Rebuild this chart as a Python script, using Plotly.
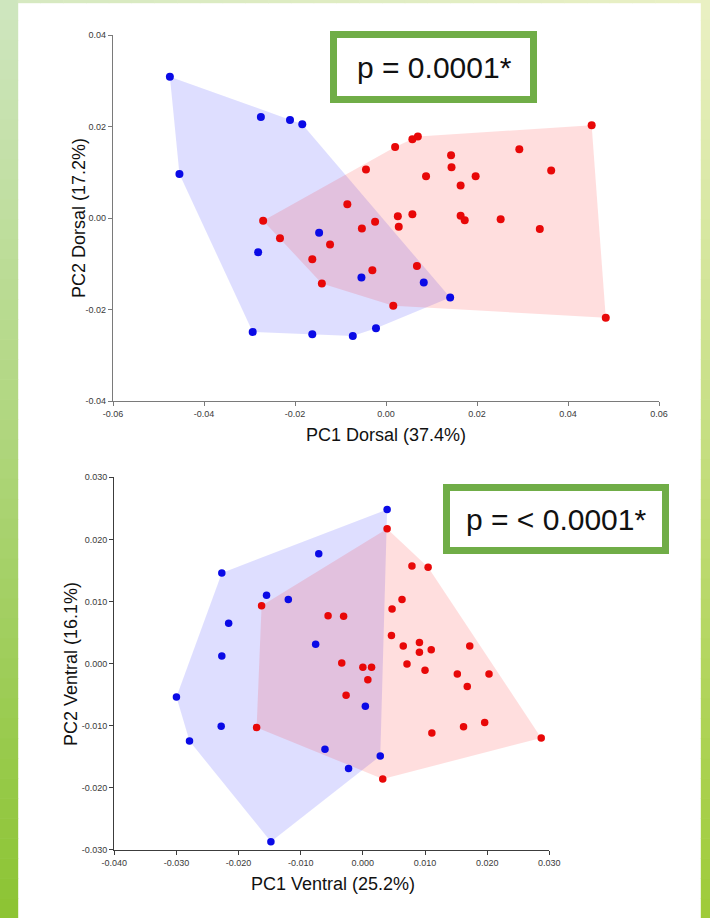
import plotly.graph_objects as go

W, H = 710, 918

# ---------------- DATA ----------------
# Dorsal PCA (top panel)
dorsal_blue_x = [-0.0475, -0.0275, -0.0211, -0.0184, -0.0454, -0.0147, -0.0281,
                 -0.0054, -0.0293, -0.0162, -0.0073, -0.0022, 0.0083, 0.0141]
dorsal_blue_y = [0.0309, 0.0221, 0.0214, 0.0205, 0.0096, -0.0032, -0.0075,
                 -0.0130, -0.0249, -0.0254, -0.0258, -0.0241, -0.0141, -0.0174]
dorsal_red_x = [-0.0044, -0.0085, -0.0270, -0.0053, -0.0024, -0.0233, -0.0123, -0.0162,
                -0.0030, -0.0141, 0.0020, 0.0058, 0.0070, 0.0143, 0.0144, 0.0088,
                0.0197, 0.0164, 0.0293, 0.0363, 0.0452, 0.0026, 0.0028, 0.0058,
                0.0164, 0.0173, 0.0252, 0.0338, 0.0068, 0.0016, 0.0483]
dorsal_red_y = [0.0106, 0.0030, -0.0006, -0.0023, -0.0008, -0.0044, -0.0058, -0.0090,
                -0.0114, -0.0143, 0.0155, 0.0172, 0.0178, 0.0137, 0.0111, 0.0091,
                0.0091, 0.0071, 0.0150, 0.0104, 0.0203, 0.0004, -0.0019, 0.0008,
                0.0005, -0.0005, -0.0003, -0.0024, -0.0105, -0.0192, -0.0218]

# Ventral PCA (bottom panel)
ventral_blue_x = [-0.0227, -0.0071, -0.0155, -0.0120, -0.0216, -0.0076, -0.0227, 0.0039,
                  0.0004, 0.0028, -0.0300, -0.0228, -0.0279, -0.0061, -0.0023, -0.0148]
ventral_blue_y = [0.0146, 0.0177, 0.0110, 0.0103, 0.0065, 0.0031, 0.0012, 0.0248,
                  -0.0069, -0.0149, -0.0054, -0.0101, -0.0125, -0.0138, -0.0169, -0.0287]
ventral_red_x = [-0.0163, -0.0056, -0.0031, -0.0034, 0.0000, 0.0014, 0.0008, 0.0039,
                 0.0079, 0.0105, 0.0063, 0.0047, 0.0046, 0.0065, 0.0091, 0.0091,
                 0.0110, 0.0071, 0.0100, 0.0172, 0.0152, 0.0203, 0.0168, 0.0111,
                 0.0162, 0.0196, 0.0287, -0.0027, -0.0171, 0.0032]
ventral_red_y = [0.0093, 0.0077, 0.0076, 0.0001, -0.0006, -0.0006, -0.0026, 0.0217,
                 0.0157, 0.0155, 0.0103, 0.0088, 0.0045, 0.0028, 0.0034, 0.0018,
                 0.0022, -0.0001, -0.0011, 0.0028, -0.0017, -0.0017, -0.0037, -0.0112,
                 -0.0102, -0.0095, -0.0120, -0.0051, -0.0103, -0.0186]

dorsal_xticks = [-0.06, -0.04, -0.02, 0.0, 0.02, 0.04, 0.06]
dorsal_xticklabels = ["-0.06", "-0.04", "-0.02", "0.00", "0.02", "0.04", "0.06"]
dorsal_yticks = [-0.04, -0.02, 0.0, 0.02, 0.04]
dorsal_yticklabels = ["-0.04", "-0.02", "0.00", "0.02", "0.04"]
ventral_xticks = [-0.04, -0.03, -0.02, -0.01, 0.0, 0.01, 0.02, 0.03]
ventral_xticklabels = ["-0.040", "-0.030", "-0.020", "-0.010", "0.000", "0.010", "0.020", "0.030"]
ventral_yticks = [-0.03, -0.02, -0.01, 0.0, 0.01, 0.02, 0.03]
ventral_yticklabels = ["-0.030", "-0.020", "-0.010", "0.000", "0.010", "0.020", "0.030"]

dorsal_xtitle = "PC1 Dorsal (37.4%)"
dorsal_ytitle = "PC2 Dorsal (17.2%)"
ventral_xtitle = "PC1 Ventral (25.2%)"
ventral_ytitle = "PC2 Ventral (16.1%)"
dorsal_p = "p = 0.0001*"
ventral_p = "p = < 0.0001*"


# ---------------- helpers ----------------
def hull(xs, ys):
    pts = sorted(set(zip(xs, ys)))
    if len(pts) < 3:
        return pts

    def cross(o, a, b):
        return (a[0] - o[0]) * (b[1] - o[1]) - (a[1] - o[1]) * (b[0] - o[0])

    lower, upper = [], []
    for p in pts:
        while len(lower) >= 2 and cross(lower[-2], lower[-1], p) <= 0:
            lower.pop()
        lower.append(p)
    for p in reversed(pts):
        while len(upper) >= 2 and cross(upper[-2], upper[-1], p) <= 0:
            upper.pop()
        upper.append(p)
    h = lower[:-1] + upper[:-1]
    return h + [h[0]]


BLUE = "#0a0ae6"
RED = "#e80808"
BLUE_FILL = "rgba(0,0,255,0.13)"
RED_FILL = "rgba(255,0,0,0.13)"

fig = go.Figure()


def add_panel(bx, by, rx, ry, xa, ya, msize):
    for xs, ys, fc in ((bx, by, BLUE_FILL), (rx, ry, RED_FILL)):
        h = hull(xs, ys)
        fig.add_trace(go.Scatter(x=[p[0] for p in h], y=[p[1] for p in h], mode="lines",
                                 fill="toself", fillcolor=fc, line=dict(width=0),
                                 hoverinfo="skip", showlegend=False, xaxis=xa, yaxis=ya))
    fig.add_trace(go.Scatter(x=bx, y=by, mode="markers",
                             marker=dict(size=msize, color=BLUE, line=dict(width=0)),
                             showlegend=False, xaxis=xa, yaxis=ya))
    fig.add_trace(go.Scatter(x=rx, y=ry, mode="markers",
                             marker=dict(size=msize, color=RED, line=dict(width=0)),
                             showlegend=False, xaxis=xa, yaxis=ya))


add_panel(dorsal_blue_x, dorsal_blue_y, dorsal_red_x, dorsal_red_y, "x", "y", 8)
add_panel(ventral_blue_x, ventral_blue_y, ventral_red_x, ventral_red_y, "x2", "y2", 7.5)


def px(x):
    return x / W


def py(y):
    return 1 - y / H


tickfont = dict(family="Liberation Sans, Arial, sans-serif", size=9, color="#3a3a3a")


def axis(domain, rng, tv, tt, anchor, lc):
    return dict(domain=domain, range=rng, tickvals=tv, ticktext=tt, anchor=anchor,
                showgrid=False, zeroline=False, showline=True, linecolor=lc, linewidth=1.3,
                ticks="outside", ticklen=4, tickwidth=1, tickcolor=lc, tickfont=tickfont,
                automargin=False, fixedrange=True)


# ---------------- background gradient (style) ----------------
shapes = []
N = 46
bh = H / N


def mix(c0, c1, t):
    return "rgb(%d,%d,%d)" % tuple(round(a + (b - a) * t) for a, b in zip(c0, c1))


left_top, left_bot = (207, 230, 192), (140, 196, 50)
right_top, right_bot = (234, 240, 196), (158, 203, 56)
for i in range(N):
    t = (i + 0.5) / N
    y0, y1 = i * bh, (i + 1) * bh + 0.6
    shapes.append(dict(type="rect", xref="paper", yref="paper", x0=0, x1=px(18.2),
                       y0=py(y1), y1=py(y0), line=dict(width=0),
                       fillcolor=mix(left_top, left_bot, t), layer="below"))
    shapes.append(dict(type="rect", xref="paper", yref="paper", x0=px(700.8), x1=1,
                       y0=py(y1), y1=py(y0), line=dict(width=0),
                       fillcolor=mix(right_top, right_bot, t), layer="below"))
NT = 30
for i in range(NT):
    t = (i + 0.5) / NT
    x0 = 18 + i * (683 / NT)
    shapes.append(dict(type="rect", xref="paper", yref="paper", x0=px(x0 - 0.3),
                       x1=px(x0 + 683 / NT + 0.3), y0=py(3.2), y1=1, line=dict(width=0),
                       fillcolor=mix((214, 233, 193), (233, 240, 196), t), layer="below"))

# p-value boxes
GREEN = "#70ad47"
shapes.append(dict(type="rect", xref="paper", yref="paper", x0=px(333.5), x1=px(533.5),
                   y0=py(99.5), y1=py(34.5), line=dict(color=GREEN, width=7),
                   fillcolor="white", layer="above"))
shapes.append(dict(type="rect", xref="paper", yref="paper", x0=px(446.5), x1=px(665.5),
                   y0=py(550.5), y1=py(487.5), line=dict(color=GREEN, width=7),
                   fillcolor="white", layer="above"))

titlefont = dict(family="Liberation Sans, Arial, sans-serif", size=18, color="#111111")
pfont = dict(family="Liberation Sans, Arial, sans-serif", size=30, color="#111111")
annotations = [
    dict(text=dorsal_xtitle, x=px(386), y=py(435), xref="paper", yref="paper",
         showarrow=False, xanchor="center", yanchor="middle", font=titlefont),
    dict(text=dorsal_ytitle, x=px(79), y=py(218), xref="paper", yref="paper", textangle=-90,
         showarrow=False, xanchor="center", yanchor="middle", font=titlefont),
    dict(text=ventral_xtitle, x=px(333), y=py(884), xref="paper", yref="paper",
         showarrow=False, xanchor="center", yanchor="middle", font=titlefont),
    dict(text=ventral_ytitle, x=px(71), y=py(664), xref="paper", yref="paper", textangle=-90,
         showarrow=False, xanchor="center", yanchor="middle", font=titlefont),
    dict(text=dorsal_p, x=px(434), y=py(67), xref="paper", yref="paper",
         showarrow=False, xanchor="center", yanchor="middle", font=pfont),
    dict(text=ventral_p, x=px(556), y=py(519), xref="paper", yref="paper",
         showarrow=False, xanchor="center", yanchor="middle", font=pfont),
]

fig.update_layout(
    width=W, height=H, autosize=False,
    margin=dict(l=0, r=0, t=0, b=0, pad=0),
    paper_bgcolor="white", plot_bgcolor="rgba(0,0,0,0)",
    showlegend=False,
    xaxis=axis([px(113), px(659)], [-0.06, 0.06], dorsal_xticks, dorsal_xticklabels, "y", "#7a7a7a"),
    yaxis=axis([py(401), py(35)], [-0.04, 0.04], dorsal_yticks, dorsal_yticklabels, "x", "#7a7a7a"),
    xaxis2=axis([px(114.3), px(549.3)], [-0.04, 0.03], ventral_xticks, ventral_xticklabels, "y2", "#3c3c3c"),
    yaxis2=axis([py(849.7), py(477.3)], [-0.03, 0.03], ventral_yticks, ventral_yticklabels, "x2", "#3c3c3c"),
    shapes=shapes,
    annotations=annotations,
)

fig.write_html("out.html", config={"displayModeBar": False})
